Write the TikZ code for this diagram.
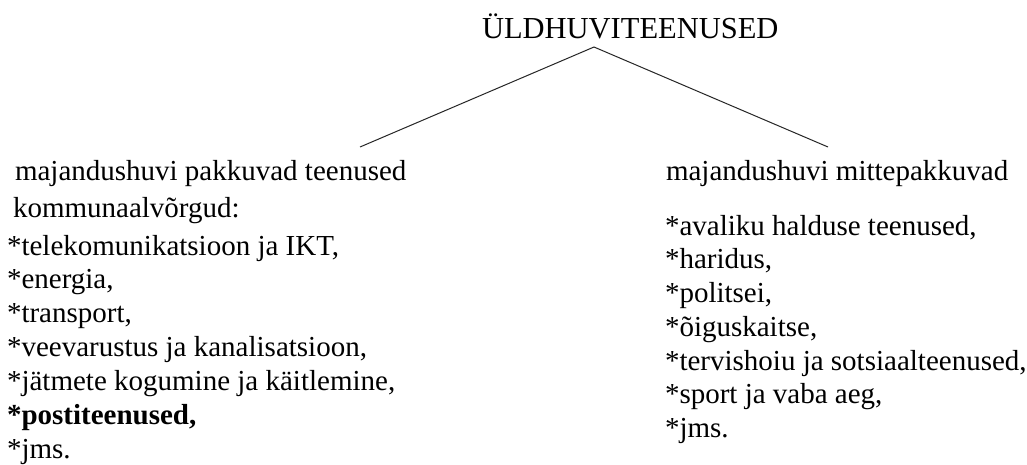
\documentclass[tikz,border=0pt]{standalone}
\usepackage{fontspec}
\setmainfont{Liberation Serif}
\begin{document}
\begin{tikzpicture}[x=1pt,y=-1pt,
  txt/.style={anchor=base west,inner sep=0pt,outer sep=0pt,font=\fontsize{29}{34}\selectfont,text=black},
  conn/.style={draw=black!85,line width=1pt}]
\useasboundingbox[fill=white] (0,0) rectangle (1027,464);
% title
\node[txt,font=\fontsize{30.5}{36}\selectfont] (title) at (482,38) {ÜLDHUVITEENUSED};
% connector geometry
\coordinate (apex) at (594,47);
\coordinate (lend) at (360,147);
\coordinate (rend) at (828,147);
\draw[conn] (lend) -- (apex) -- (rend);
% left column
\node[txt] (lh)  at (15,180) {majandushuvi pakkuvad teenused};
\node[txt] (lk)  at (13,217) {kommunaalvõrgud:};
\node[txt] (l1)  at (7,255) {*telekomunikatsioon ja IKT,};
\node[txt] (l2)  at (7,288.8) {*energia,};
\node[txt] (l3)  at (7,322.7) {*transport,};
\node[txt] (l4)  at (7,356.5) {*veevarustus ja kanalisatsioon,};
\node[txt] (l5)  at (7,390.3) {*jätmete kogumine ja käitlemine,};
\node[txt,font=\fontsize{29}{34}\selectfont\bfseries] (l6) at (7,424.2) {*postiteenused,};
\node[txt] (l7)  at (7,458) {*jms.};
% right column
\node[txt] (rh)  at (666,180) {majandushuvi mittepakkuvad};
\node[txt] (r1)  at (665,235) {*avaliku halduse teenused,};
\node[txt] (r2)  at (665,268.75) {*haridus,};
\node[txt] (r3)  at (665,302.5) {*politsei,};
\node[txt] (r4)  at (665,336.25) {*õiguskaitse,};
\node[txt] (r5)  at (665,370) {*tervishoiu ja sotsiaalteenused,};
\node[txt] (r6)  at (665,403.75) {*sport ja vaba aeg,};
\node[txt] (r7)  at (665,437.5) {*jms.};
\end{tikzpicture}
\end{document}
